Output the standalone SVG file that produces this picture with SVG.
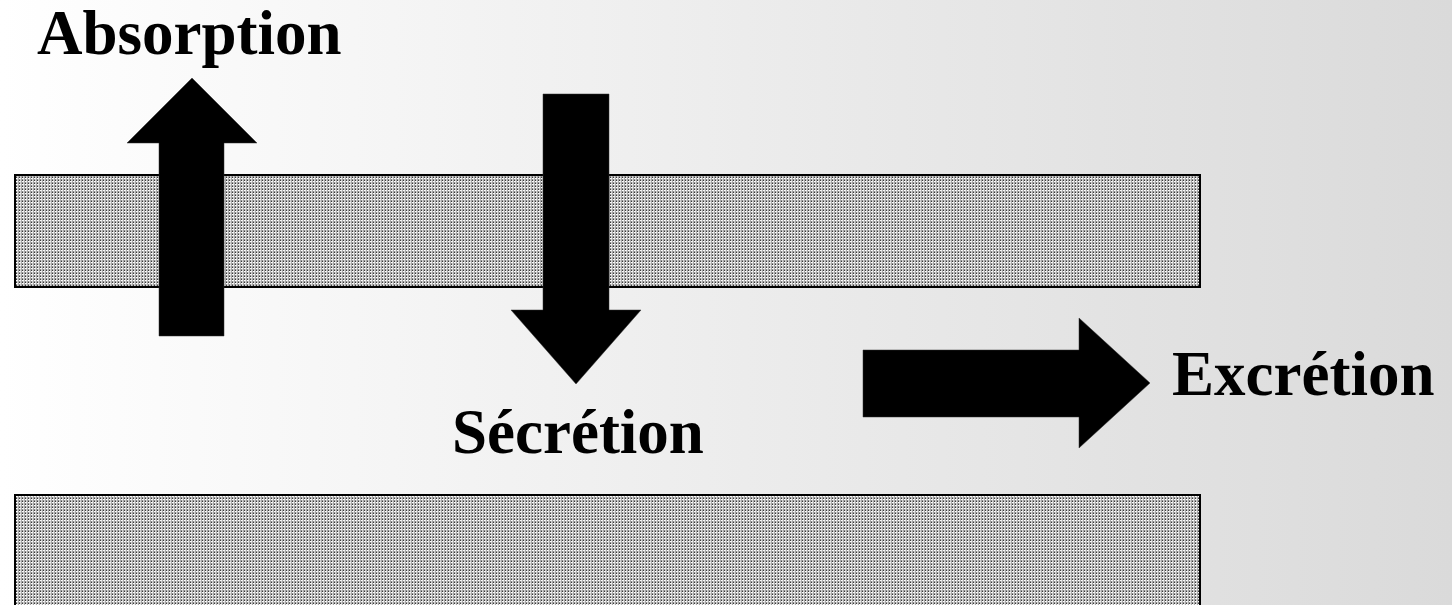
<svg xmlns="http://www.w3.org/2000/svg" width="1452" height="605" viewBox="0 0 1452 605">
<defs>
<linearGradient id="bg" x1="0" y1="0" x2="1" y2="0">
<stop offset="0" stop-color="#ffffff"/>
<stop offset="1" stop-color="#dadada"/>
</linearGradient>
<pattern id="dots" patternUnits="userSpaceOnUse" width="3" height="3">
<rect width="3" height="3" fill="#d0d0d0"/>
<rect x="0" y="0" width="1" height="3" fill="#a8a8a8"/>
<rect x="1" y="0" width="1" height="1" fill="#3a3a3a"/>
<rect x="1" y="1" width="1" height="1" fill="#ffffff"/>
<rect x="1" y="2" width="1" height="1" fill="#8a8a8a"/>
<rect x="2" y="1" width="1" height="1" fill="#f0f0f0"/>
</pattern>
<style>
.band{fill:url(#dots);stroke:#000;stroke-width:2}
.arrow{fill:#000;stroke:#333;stroke-width:0.5}
.lbl{font-family:"Liberation Serif","Times New Roman",serif;font-weight:bold;font-size:63px;fill:#000}
</style>
</defs>
<rect width="1452" height="605" fill="url(#bg)"/>
<g id="membrane-top"><rect class="band" x="15" y="175" width="1185" height="112"/></g>
<g id="membrane-bottom"><rect class="band" x="15" y="495" width="1185" height="120"/></g>
<g id="connectors">
<polygon id="arrow-absorption" class="arrow" points="159,336 159,143 127,143 192,78 257,143 224,143 224,336"/>
<polygon id="arrow-secretion" class="arrow" points="543,94 609,94 609,310 641,310 576,384 511,310 543,310"/>
<polygon id="arrow-excretion" class="arrow" points="863,350 1079,350 1079,318 1150,383 1079,448 1079,417 863,417"/>
</g>
<g id="label-absorption"><text class="lbl" x="37" y="54">Absorption</text></g>
<g id="label-secretion"><text class="lbl" x="452" y="453">Sécrétion</text></g>
<g id="label-excretion"><text class="lbl" x="1172" y="395">Excrétion</text></g>
</svg>
